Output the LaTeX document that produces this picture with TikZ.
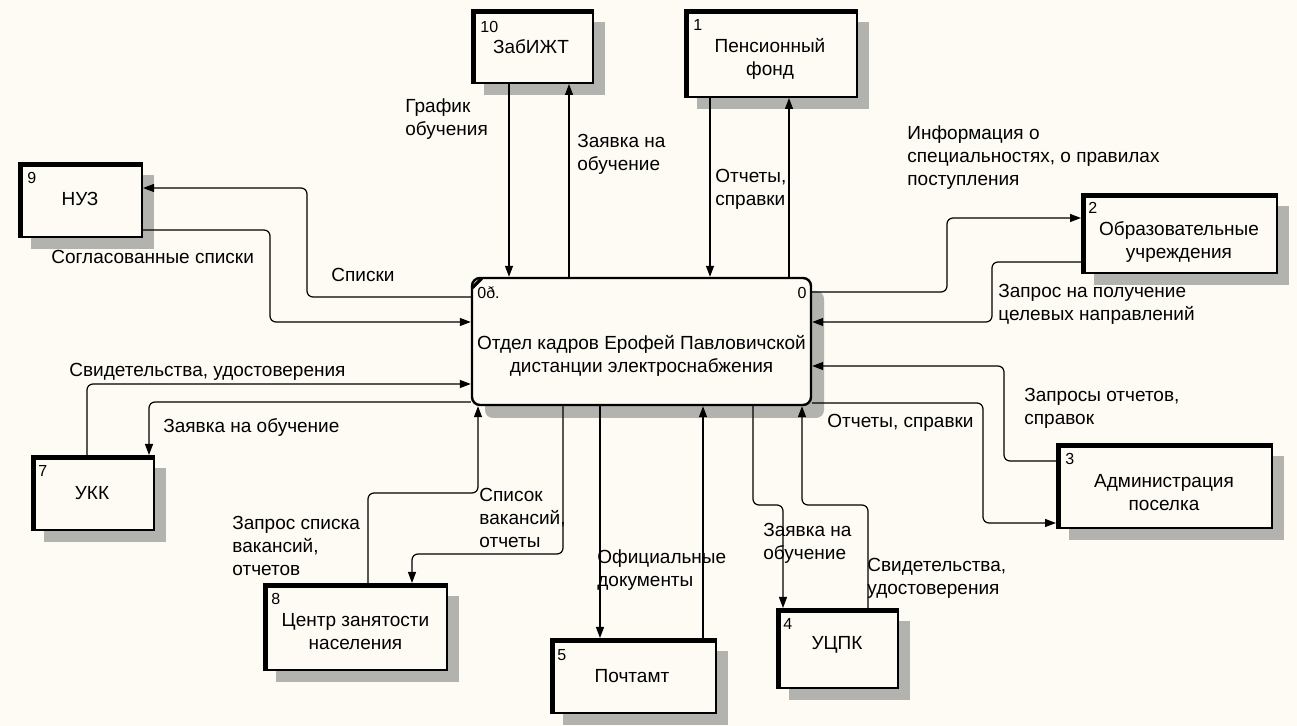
\documentclass[tikz,border=0pt]{standalone}
\usepackage{fontspec}
\setmainfont{Liberation Sans}
\usetikzlibrary{arrows.meta,shadows}
\definecolor{paper}{RGB}{253,251,243}
\definecolor{hatch}{RGB}{178,178,175}
\tikzset{
  ext/.style={draw, line width=1pt, fill=paper, inner sep=0pt,
    drop shadow={shadow xshift=6pt, shadow yshift=-6pt, fill=hatch, opacity=1}},
  procbox/.style={draw, line width=1.2pt, fill=paper, inner sep=0pt, rounded corners=4pt,
    drop shadow={shadow xshift=6.5pt, shadow yshift=-6.5pt, fill=hatch, opacity=1}},
  ttl/.style={inner sep=0pt, align=center, font=\fontsize{9.5}{11.5}\selectfont},
  num/.style={inner sep=0pt, anchor=west, font=\fontsize{8}{9}\selectfont},
  lbl/.style={inner sep=0pt, anchor=west, align=left, font=\fontsize{9.5}{11.5}\selectfont},
  flow/.style={draw, line width=0.6pt, rounded corners=3pt},
  arr/.style={flow, -{Triangle[length=5.5pt,width=4pt]}}
}
\begin{document}
\begin{tikzpicture}[x=0.5pt,y=-0.5pt]
\useasboundingbox (0,0) rectangle (1297,726);
\fill[paper] (0,0) rectangle (1297,726);

% central process
\node[procbox, minimum width=169.5pt, minimum height=63.5pt] (main) at (641.5,341.5) {};
\draw[line width=1.6pt] ([xshift=0.8pt,yshift=-5.5pt]main.north west) -- ([xshift=5.5pt,yshift=-0.8pt]main.north west);
\node[ttl] (main-t) at (641.5,356) {Отдел кадров Ерофей Павловичской\\дистанции электроснабжения};
\node[num] (main-c) at (477,293) {0ð.};
\node[num, anchor=east] (main-n) at (807,293) {0};

% external entities
\node[ext, minimum width=60.5pt, minimum height=36.5pt] (zab) at (532.5,46.5) {};
\node[ext, minimum width=86pt, minimum height=43.5pt] (pf) at (771,53.5) {};
\node[ext, minimum width=61.5pt, minimum height=37pt] (nuz) at (80.5,200) {};
\node[ext, minimum width=97.5pt, minimum height=39.5pt] (edu) at (1179.5,233.5) {};
\node[ext, minimum width=61pt, minimum height=37pt] (ukk) at (93,493) {};
\node[ext, minimum width=91.5pt, minimum height=43pt] (czn) at (355.5,627) {};
\node[ext, minimum width=82.5pt, minimum height=37pt] (post) at (633.5,676) {};
\node[ext, minimum width=60.5pt, minimum height=39.5pt] (ucpk) at (837.5,648.5) {};
\node[ext, minimum width=107.5pt, minimum height=42pt] (adm) at (1164.5,486) {};

% heavy left and top edges of the entities
\foreach \b in {zab,pf,nuz,edu,ukk,czn,post,ucpk,adm}
  \draw[line width=2.6pt] ([xshift=1.3pt]\b.south west) -- ([xshift=1.3pt,yshift=-1.3pt]\b.north west) -- ([yshift=-1.3pt]\b.north east);

% entity titles
\node[ttl] (zab-t) at (531,47) {ЗабИЖТ};
\node[ttl] (pf-t) at (770,58.5) {Пенсионный\\фонд};
\node[ttl] (nuz-t) at (80,199) {НУЗ};
\node[ttl] (edu-t) at (1179,242) {Образовательные\\учреждения};
\node[ttl] (ukk-t) at (92,493) {УКК};
\node[ttl] (czn-t) at (355.5,632) {Центр занятости\\населения};
\node[ttl] (post-t) at (632,676) {Почтамт};
\node[ttl] (ucpk-t) at (837,645) {УЦПК};
\node[ttl] (adm-t) at (1164,493) {Администрация\\поселка};

% entity numbers
\node[num] (zab-n) at (480,27) {10};
\node[num] (pf-n) at (693,25) {1};
\node[num] (nuz-n) at (27,178) {9};
\node[num] (edu-n) at (1088,208) {2};
\node[num] (ukk-n) at (38,471) {7};
\node[num] (czn-n) at (271,599) {8};
\node[num] (post-n) at (557,655) {5};
\node[num] (ucpk-n) at (783,624) {4};
\node[num] (adm-n) at (1065,459) {3};

% flows, top
\draw[arr] (509,0 |- zab.south) -- (509,0 |- main.north);
\draw[arr] (569,0 |- main.north) -- (569,0 |- zab.south);
\draw[arr] (710,0 |- pf.south) -- (710,0 |- main.north);
\draw[arr] (789,0 |- main.north) -- (789,0 |- pf.south);

% flows, right
\draw[arr] (0,292 -| main.east) -- (947,292) -- (947,218) -- (0,218 -| edu.west);
\draw[arr] (0,262 -| edu.west) -- (992,262) -- (992,322) -- (0,322 -| main.east);
\draw[arr] (0,461 -| adm.west) -- (1004,461) -- (1004,366) -- (0,366 -| main.east);
\draw[arr] (0,403 -| main.east) -- (983,403) -- (983,523) -- (0,523 -| adm.west);

% flows, bottom
\draw[arr] (753,0 |- main.south) -- (753,505) -- (783,505) -- (783,0 |- ucpk.north);
\draw[arr] (868,0 |- ucpk.north) -- (868,505) -- (802,505) -- (802,0 |- main.south);
\draw[arr] (600,0 |- main.south) -- (600,0 |- post.north);
\draw[arr] (703,0 |- post.north) -- (703,0 |- main.south);
\draw[arr] (563,0 |- main.south) -- (563,554) -- (412,554) -- (412,0 |- czn.north);
\draw[arr] (368,0 |- czn.north) -- (368,493) -- (478,493) -- (478,0 |- main.south);

% flows, left
\draw[arr] (0,402 -| main.west) -- (149,402) -- (149,0 |- ukk.north);
\draw[arr] (87,0 |- ukk.north) -- (87,384) -- (0,384 -| main.west);
\draw[arr] (0,297 -| main.west) -- (307,297) -- (307,188) -- (0,188 -| nuz.east);
\draw[arr] (0,230 -| nuz.east) -- (270,230) -- (270,322) -- (0,322 -| main.west);

% flow labels
\node[lbl] (l-graf) at (405,119) {График\\обучения};
\node[lbl] (l-zay1) at (577,154.5) {Заявка на\\обучение};
\node[lbl] (l-otch1) at (715,189) {Отчеты,\\справки};
\node[lbl] (l-info) at (907,157.5) {Информация о\\специальностях, о правилах\\поступления};
\node[lbl] (l-zapr) at (998,304) {Запрос на получение\\целевых направлений};
\node[lbl] (l-zapr2) at (1024,408) {Запросы отчетов,\\справок};
\node[lbl] (l-otch2) at (827,423) {Отчеты, справки};
\node[lbl] (l-zay2) at (763,543) {Заявка на\\обучение};
\node[lbl] (l-svid2) at (867,578.5) {Свидетельства,\\удостоверения};
\node[lbl] (l-ofic) at (597,570) {Официальные\\документы};
\node[lbl] (l-spis) at (479,517.5) {Список\\вакансий,\\отчеты};
\node[lbl] (l-zapr3) at (232,545.5) {Запрос списка\\вакансий,\\отчетов};
\node[lbl] (l-zay3) at (163,428) {Заявка на обучение};
\node[lbl] (l-svid1) at (69,372) {Свидетельства, удостоверения};
\node[lbl] (l-sogl) at (51,257) {Согласованные списки};
\node[lbl] (l-spiski) at (331,275) {Списки};
\end{tikzpicture}
\end{document}
